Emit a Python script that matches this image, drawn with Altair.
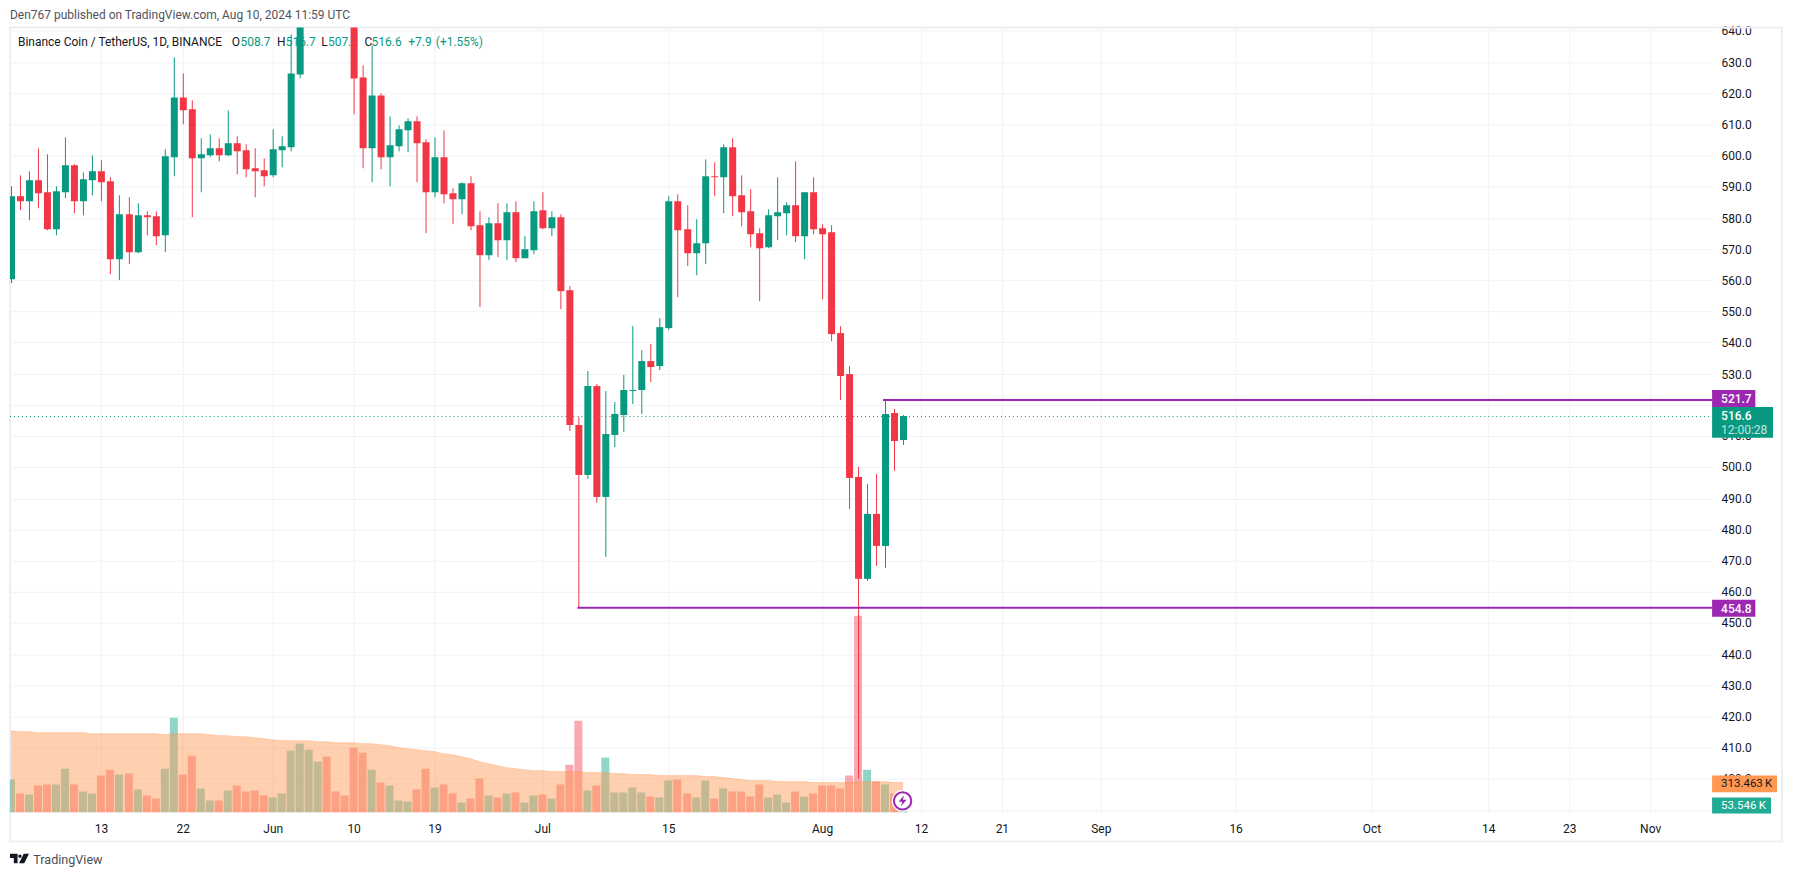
import altair as alt
import pandas as pd

days = list(range(100))
opens = [560.3,586.9,585.3,592.0,588.2,576.3,588.2,596.8,585.3,592.0,
         594.9,591.7,566.7,581.1,569.0,580.8,580.5,574.4,599.4,618.6,
         614.8,599.1,600.0,602.3,600.0,603.9,601.6,595.9,595.2,593.6,
         601.6,602.6,626.0,655.0,680.0,705.0,694.0,688.0,680.0,625.0,
         602.3,619.3,599.4,602.9,608.0,610.9,604.2,588.2,599.4,587.9,
         585.9,591.1,577.6,568.0,578.3,572.8,581.8,567.0,569.6,582.4,
         576.6,580.2,556.8,513.5,497.5,526.0,490.5,510.3,516.7,524.4,
         524.7,534.0,532.4,544.6,585.3,576.3,568.6,571.8,593.3,593.0,
         602.6,587.2,582.1,575.0,570.6,580.5,581.5,584.0,574.1,588.2,
         576.7,575.4,543.0,529.9,496.9,464.2,485.0,474.8,517.4,508.7]
closes = [586.9,585.3,592.0,587.9,576.3,588.5,596.8,585.3,592.3,594.9,
          591.4,566.7,581.1,569.0,580.8,580.2,574.1,599.7,618.6,614.5,
          599.1,600.4,602.3,600.0,603.9,601.3,595.6,594.9,593.3,602.0,
          602.9,626.3,655.0,680.0,705.0,694.0,688.0,680.0,624.7,602.3,
          619.3,599.4,603.3,608.4,610.9,603.9,588.2,599.4,587.5,585.9,
          591.1,577.3,568.0,578.3,572.8,581.8,567.0,569.9,582.1,576.6,
          580.2,556.5,513.5,497.5,526.0,490.5,510.7,517.1,524.7,524.7,
          534.0,532.1,544.9,585.3,576.0,568.6,571.8,593.3,593.0,602.6,
          586.9,581.8,574.7,570.2,580.8,581.8,584.0,574.1,588.2,576.3,
          574.7,542.7,529.2,496.5,464.2,485.0,474.8,517.1,508.4,516.6]
highs = [590.1,593.6,594.9,602.3,600.4,590.1,605.8,597.3,594.6,600.0,
         598.4,593.0,587.2,586.6,584.7,582.1,582.1,602.0,631.4,626.3,
         617.7,605.5,606.8,605.5,614.5,606.1,603.6,602.3,599.1,608.4,
         606.1,638.8,662.0,690.0,716.0,712.0,702.0,693.0,690.0,628.9,
         635.3,619.9,612.5,609.7,611.9,612.5,605.2,605.8,608.0,589.5,
         591.4,593.3,582.1,580.2,584.7,584.7,585.3,574.1,585.3,588.2,
         582.1,581.1,558.1,516.1,530.8,526.7,524.4,520.9,529.5,545.2,
         537.6,539.5,547.8,586.9,587.5,584.0,579.5,598.8,597.8,603.6,
         605.5,593.6,589.1,576.6,582.7,593.0,585.0,598.1,588.2,593.0,
         577.9,577.6,545.2,532.4,500.1,494.6,497.8,521.7,518.7,516.7]
lows = [559.2,582.4,579.2,583.1,576.0,574.4,586.3,581.5,580.8,587.2,
        585.3,561.9,560.0,565.1,568.6,574.4,571.2,569.0,593.3,610.0,
        580.2,588.2,599.4,598.1,599.7,594.0,593.0,586.6,590.1,593.0,
        596.2,601.3,624.7,652.0,672.0,680.0,675.0,665.0,613.2,595.9,
        591.4,595.6,590.1,601.3,601.0,591.4,575.0,586.6,584.7,577.9,
        581.1,576.0,551.5,566.4,567.4,566.4,565.8,567.0,568.3,576.3,
        574.1,550.7,511.6,454.8,496.2,488.5,471.2,506.5,511.3,520.3,
        517.1,527.3,531.2,544.0,554.5,564.5,561.6,565.1,586.9,581.5,
        580.5,577.3,570.6,553.3,570.2,572.8,574.4,572.2,566.7,574.7,
        553.9,540.4,521.5,486.6,400.0,463.5,468.4,467.7,498.8,507.2]
volumes_k = [337,193,182,275,286,286,451,286,213,193,
             378,440,389,399,234,172,141,451,987,389,
             585,244,120,120,224,275,213,224,172,151,
             193,636,709,647,523,574,213,172,667,616,
             440,306,275,120,110,234,451,255,286,193,
             100,141,347,172,151,193,203,100,172,182,
             141,286,492,956,224,275,564,203,203,255,
             203,162,151,327,337,193,151,327,141,244,
             213,213,162,286,151,182,100,213,162,193,
             275,275,244,378,2033,440,316,286,193,53.5]
volume_ma_k = [843,839,836,832,829,829,826,826,826,822,
               819,819,819,822,822,819,812,808,812,815,
               815,815,802,795,791,788,781,774,767,753,
               743,743,743,740,736,733,726,719,719,716,
               712,702,688,674,657,647,636,626,612,599,
               581,554,523,506,485,468,454,444,433,430,
               427,423,423,420,413,413,409,406,402,396,
               392,389,385,385,382,378,378,375,372,361,
               347,337,334,330,327,323,320,316,316,313,
               310,306,306,310,316,320,320,316,313,313.5]

time_tick_days = [10,19,29,38,47,59,73,90,101,110,121,136,151,164,173,182]
time_tick_labels = ["13","22","Jun","10","19","Jul","15","Aug","12","21","Sep","16","Oct","14","23","Nov"]
price_ticks = list(range(390, 650, 10))

UP, DOWN = "#089981", "#F23645"
VOL_UP, VOL_DOWN = "#22AB94", "#F7525F"
PURPLE = "#9C27B0"
ORANGE = "#FF9850"
GRID = "#F1F2F5"
FRAME = "#EEEFF4"
FONT = "Roboto"

df = pd.DataFrame({"day": days, "open": opens, "close": closes, "high": highs, "low": lows,
                   "vol": volumes_k, "ma": volume_ma_k})
df["dir"] = ["up" if c >= o else "down" for o, c in zip(opens, closes)]

X0, Y0, W, H = 10, 27, 1704, 786
xscale = alt.Scale(domain=[-0.144, 188.85], nice=False, zero=False, round=True, padding=0)
pscale = alt.Scale(domain=[389.24, 641.08], nice=False, zero=False, round=True, padding=0)
vscale = alt.Scale(domain=[0, 8127], nice=False, zero=False, round=True, padding=0)
xnone = alt.X("day:Q", scale=xscale, axis=None)


def text(s, x, y, size=12, color="#131722", weight="normal", align="left", font=FONT, opacity=1):
    return alt.Chart(df.head(1)).mark_text(
        align=align, baseline="middle", font=font, fontSize=size, color=color,
        fontWeight=weight, opacity=opacity, text=s
    ).encode(x=alt.value(x - X0), y=alt.value(y - Y0))


def box(x1, x2, y1, y2, fill):
    return alt.Chart(df.head(1)).mark_rect(color=fill).encode(
        x=alt.value(x1 - X0), x2=alt.value(x2 - X0),
        y=alt.value(y1 - Y0), y2=alt.value(y2 - Y0))


label_map = "{" + ",".join(f"'{d}':'{l}'" for d, l in zip(time_tick_days, time_tick_labels)) + "}"
base = alt.Chart(df).mark_point(opacity=0).encode(
    x=alt.X("day:Q", scale=xscale, title=None, axis=alt.Axis(
        values=time_tick_days, labelExpr=f"{label_map}[datum.value]", grid=True, gridColor=GRID,
        gridWidth=1, domain=False, ticks=False, labelFont=FONT, labelFontSize=12,
        labelColor="#131722", labelPadding=11, labelOverlap=False, labelFlush=False, labelBound=False,
        labelFontWeight={"condition": {"test": "indexof(['Jun','Jul','Aug','Sep','Oct','Nov'], datum.label) >= 0", "value": 500}, "value": 400})),
    y=alt.Y("close:Q", scale=pscale, title=None, axis=alt.Axis(
        orient="right", values=price_ticks, labelExpr="datum.value == 390 ? '' : format(datum.value, '.1f')",
        grid=True, gridColor=GRID, gridWidth=1, domain=False, ticks=False, labelFont=FONT,
        labelFontSize=12, labelColor="#131722", labelPadding=9, labelOverlap=False, labelBound=False)),
)

col = alt.Color("dir:N", scale=alt.Scale(domain=["up", "down"], range=[UP, DOWN]), legend=None)
volcol = alt.Color("dir:N", scale=alt.Scale(domain=["up", "down"], range=[VOL_UP, VOL_DOWN]), legend=None)

vol_bars = alt.Chart(df).mark_bar(size=8, opacity=0.5, clip=True).encode(
    x=xnone, y=alt.Y("vol:Q", scale=vscale, axis=None), color=volcol)
ma_area = alt.Chart(df).mark_area(color=ORANGE, opacity=0.46, clip=True).encode(
    x=xnone, y=alt.Y("ma:Q", scale=vscale, axis=None), y2=alt.value(H - 1))
ma_line = alt.Chart(df).mark_line(color=ORANGE, opacity=0.35, strokeWidth=1, clip=True).encode(
    x=xnone, y=alt.Y("ma:Q", scale=vscale, axis=None))

wicks = alt.Chart(df).mark_rule(strokeWidth=1, clip=True, xOffset=0.5).encode(
    x=xnone, y=alt.Y("low:Q", scale=pscale, axis=None), y2="high:Q", color=col)
bodies = alt.Chart(df).mark_bar(size=7, clip=True, xOffset=0.5).encode(
    x=xnone, y=alt.Y("open:Q", scale=pscale, axis=None), y2="close:Q", color=col)

last_price = 516.6
level_df = pd.DataFrame({"start": [96.8, 62.8], "end": [188.85, 188.85], "price": [521.7, 454.8]})
levels = alt.Chart(level_df).mark_rule(color=PURPLE, strokeWidth=2).encode(
    x=alt.X("start:Q", scale=xscale, axis=None), x2="end:Q",
    y=alt.Y("price:Q", scale=pscale, axis=None))
last_df = pd.DataFrame({"price": [last_price]})
last_line = alt.Chart(last_df).mark_rule(color=UP, strokeWidth=1, strokeDash=[1, 3], yOffset=0.5).encode(
    x=alt.value(0), x2=alt.value(W), y=alt.Y("price:Q", scale=pscale, axis=None))

frame = alt.Chart(df.head(1)).mark_rect(filled=False, stroke=FRAME, strokeWidth=2).encode(
    x=alt.value(0), x2=alt.value(1784 - X0), y=alt.value(0), y2=alt.value(842 - Y0))

bolt = "M.25 -1 L-.7 .15 H-.05 L-.3 1 L.7 -.2 H.05 Z"
logo = ("M-1 -.5 H-.2 V.5 H-.6 V-.05 H-1 Z "
        "M-.12 -.25 A.17 .17 0 1 1 .22 -.25 A.17 .17 0 1 1 -.12 -.25 Z "
        "M.45 -.5 H1 L.5 .5 H-.05 Z")
ix, iy = 903.6 - X0, 801.3 - Y0
icon_halo = alt.Chart(df.head(1)).mark_circle(color="white", size=470, opacity=1).encode(x=alt.value(ix), y=alt.value(iy))
icon_ring = alt.Chart(df.head(1)).mark_point(shape="circle", size=300, filled=False, color=PURPLE, strokeWidth=2, opacity=1).encode(x=alt.value(ix), y=alt.value(iy))
icon_bolt = alt.Chart(df.head(1)).mark_point(shape=bolt, size=130, filled=True, color=PURPLE, opacity=1, strokeWidth=0).encode(x=alt.value(ix), y=alt.value(iy))
tv_logo = alt.Chart(df.head(1)).mark_point(shape=logo, size=361, filled=True, color="#131722", opacity=1, strokeWidth=0).encode(x=alt.value(19.5 - X0), y=alt.value(859 - Y0))

layers = [
    base, frame,
    text("Den767 published on TradingView.com, Aug 10, 2024 11:59 UTC", 10, 15, color="#50535E"),
    text("Binance Coin / TetherUS, 1D, BINANCE", 18, 42),
    text("O", 232, 42), text("508.7", 240.7, 42, color=UP),
    text("H", 277.3, 42), text("516.7", 286, 42, color=UP),
    text("L", 321.7, 42), text("507.2", 328.3, 42, color=UP),
    text("C", 365, 42), text("516.6", 372, 42, color=UP),
    text("+7.9", 408.7, 42, color=UP), text("(+1.55%)", 436.3, 42, color=UP),
    vol_bars, ma_area, ma_line, last_line, wicks, bodies, levels,
    icon_halo, icon_ring, icon_bolt,
    box(1714, 1757.3, 390, 407, PURPLE), text("521.7", 1723, 399, color="white", weight=500),
    box(1714, 1775, 407, 437.7, UP), text("516.6", 1723, 415.7, color="white", weight=500),
    text("12:00:28", 1723, 429.7, color="white", opacity=0.75),
    box(1714, 1757.3, 600, 617, PURPLE), text("454.8", 1723, 608.7, color="white", weight=500),
    box(1714, 1779, 776, 792.7, ORANGE), text("313.463\u2009K", 1723, 784.3, size=11.5),
    box(1714, 1773, 798, 814, VOL_UP), text("53.546\u2009K", 1723, 806.7, size=11.5, color="white"),
    tv_logo,
    text("TradingView", 33.3, 860, size=12.6, color="#4A4E59"),
]

chart = alt.layer(*layers).resolve_scale(x="independent", y="independent", color="independent").properties(
    width=W, height=H, background="white",
    padding={"left": X0 - 8, "top": Y0 - 8, "right": 74, "bottom": 54},
    autosize=alt.AutoSizeParams(type="none"),
).configure_view(stroke=None)

chart.save("out.html", embed_options={"renderer": "svg", "actions": False})
